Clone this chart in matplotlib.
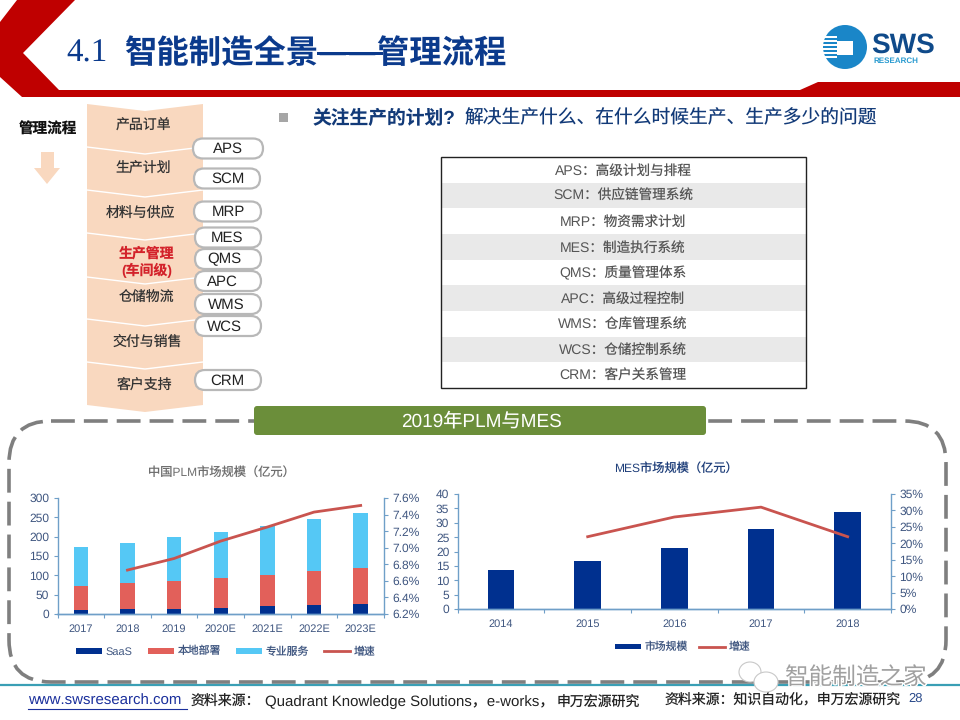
# -*- coding: utf-8 -*-
import numpy as np
import matplotlib
matplotlib.use("Agg")
import matplotlib.pyplot as plt
import matplotlib.patheffects as pe
from matplotlib.patches import Polygon, FancyBboxPatch, Rectangle, Circle, Ellipse

plt.rcParams['font.family'] = ['Liberation Sans', 'Noto Sans CJK SC', 'DejaVu Sans']
plt.rcParams['text.hinting'] = 'no_hinting'
plt.rcParams['text.hinting_factor'] = 1

# left chart
plm_years = ['2017', '2018', '2019', '2020E', '2021E', '2022E', '2023E']
plm_saas = [11, 13, 14, 16, 20, 23, 26]
plm_local = [62, 66, 71, 76, 80, 87, 94]
plm_service = [100, 105, 113, 119, 128, 135, 142]
plm_growth = [np.nan, 6.73, 6.87, 7.08, 7.25, 7.43, 7.51]

# right chart
mes_years = ['2014', '2015', '2016', '2017', '2018']
mes_size = [13.5, 16.6, 21.2, 27.7, 33.9]
mes_growth = [np.nan, 22, 28, 31, 22]

steps = ['产品订单', '生产计划', '材料与供应', '生产管理\n(车间级)', '仓储物流', '交付与销售', '客户支持']
table_rows = ['APS：高级计划与排程', 'SCM：供应链管理系统', 'MRP：物资需求计划', 'MES：制造执行系统',
              'QMS：质量管理体系', 'APC：高级过程控制', 'WMS：仓库管理系统', 'WCS：仓储控制系统', 'CRM：客户关系管理']
pill_names = ['APS', 'SCM', 'MRP', 'MES', 'QMS', 'APC', 'WMS', 'WCS', 'CRM']

NAVY = '#0b3a8c'
RED = '#bf0000'
BAR_NAVY = '#00308f'
BAR_RED = '#e2605a'
BAR_CYAN = '#55c8f5'
LINE_RED = '#c9544f'
AXIS = '#6f9fc8'
TICK = '#3f5680'
PEACH = '#f9d8bf'

fig = plt.figure(figsize=(9.6, 7.2), dpi=100)
bg = fig.add_axes([0, 0, 1, 1])
bg.set_xlim(0, 960)
bg.set_ylim(720, 0)
bg.axis('off')


def add_chart(left, top, right, bottom):
    return fig.add_axes([left / 960, 1 - bottom / 720, (right - left) / 960, (bottom - top) / 720])


# header
bg.add_patch(Polygon([(17, 0), (75, 0), (23, 53), (59, 90), (800, 90), (818, 82), (960, 82), (960, 97),
                      (22, 97), (0, 77), (0, 22)], fc=RED, ec='none'))
bg.text(66, 53.5, '4.1', family='Liberation Serif', fontsize=24, color=NAVY, va='center')
bg.text(124, 53.5, '智能制造全景——管理流程', family='Noto Sans CJK SC', weight='bold', fontsize=23.3,
        color=NAVY, va='center')
bg.add_patch(Rectangle((317, 52), 66, 3, fc=NAVY, ec='none'))

# logo
bg.add_patch(Circle((845, 47), 22, fc='#1a86c8', ec='none'))
bg.add_patch(Rectangle((837, 41), 16, 14, fc='white', ec='none'))
for y in range(36, 60, 4):
    bg.add_patch(Rectangle((822, y), 15, 2, fc='white', ec='none'))
bg.text(871, 45, 'SWS', fontsize=20.5, weight='bold', color='#0f4a8a', va='center')
bg.text(873, 61, 'RESEARCH', fontsize=5.5, weight='bold', color='#2a9bd0', va='center')

# process flow
edges = [104, 147, 190, 233, 277, 319, 362, 405]
step_x = [144, 143, 141, 147, 147, 147, 145]
step_y = [125.5, 169, 212.5, 262.5, 298, 342, 385]
for i, s in enumerate(steps):
    t, b = edges[i], edges[i + 1]
    bg.add_patch(Polygon([(87, t), (145, t + 7), (203, t), (203, b), (145, b + 7), (87, b)],
                         fc=PEACH, ec='none', zorder=1))
    col = '#d3222a' if i == 3 else '#333333'
    wt = 'bold' if i == 3 else 'normal'
    bg.text(step_x[i], step_y[i], s, ha='center', va='center', fontsize=10, color=col, weight=wt,
            zorder=2, linespacing=1.15)
for e in edges[1:-1]:
    bg.plot([87, 145, 203], [e, e + 7, e], color='white', lw=1, zorder=1.5)
bg.text(48, 130, '管理流程', ha='center', va='center', fontsize=10.5, weight='bold', color='#111111')
bg.add_patch(Polygon([(41, 152), (54, 152), (54, 168), (60, 168), (47, 184), (34, 168), (41, 168)],
                     fc=PEACH, ec='none'))

pill_y = [148.5, 178.5, 211.5, 237.5, 259, 281, 304, 326, 380]
pill_l = [193, 194, 194, 195, 195, 195, 195, 195, 195]
pill_r = [263, 260, 261, 261, 261, 261, 261, 261, 261]
pill_x = [228, 228, 228, 227, 224, 222, 226, 224, 227]
for name, y, l, r, x in zip(pill_names, pill_y, pill_l, pill_r, pill_x):
    bg.add_patch(FancyBboxPatch((l, y - 10), r - l, 20, boxstyle='round,pad=0,rounding_size=10',
                                fc='white', ec='#b8b8b8', lw=1.6, zorder=3))
    bg.text(x, y + 0.5, name, ha='center', va='center', fontsize=10.5, color='#222222', zorder=4)

# top text
bg.add_patch(Rectangle((279, 113), 9, 9, fc='#a6a6a6', ec='none'))
bg.text(313, 118.5, '关注生产的计划?', fontsize=13.5, weight='bold', color='#123a78', va='center')
bg.text(465, 118.5, '解决生产什么、在什么时候生产、生产多少的问题', fontsize=13.5, color='#123a78', va='center')

# table
row_h = (388 - 157) / 9
for i, r in enumerate(table_rows):
    if i % 2 == 1:
        bg.add_patch(Rectangle((441, 157 + i * row_h), 365, row_h, fc='#e9e9e9', ec='none'))
    bg.text(623, 157 + (i + 0.5) * row_h + 1, r, ha='center', va='center', fontsize=9.8, color='#555555')
bg.add_patch(Rectangle((441, 157), 365, 231, fc='none', ec='#222222', lw=1))

# dashed frame and banner
bg.add_patch(FancyBboxPatch((9, 421), 937, 261, boxstyle='round,pad=0,rounding_size=42', fc='none',
                            ec='#7f7f7f', lw=2.6, ls=(0, (6.6, 2.5))))
bg.add_patch(FancyBboxPatch((254, 406), 452, 29, boxstyle='round,pad=0,rounding_size=3', fc='#6b8e3a', ec='none'))
bg.text(481, 421, '2019年PLM与MES', ha='center', va='center', fontsize=13.8, color='white')

# PLM chart
ax1 = add_chart(57.5, 498, 384, 614)
x1 = np.arange(len(plm_years))
saas = np.array(plm_saas)
local = np.array(plm_local)
b1 = ax1.bar(x1, plm_saas, 0.31, color=BAR_NAVY)
b2 = ax1.bar(x1, plm_local, 0.31, bottom=saas, color=BAR_RED)
b3 = ax1.bar(x1, plm_service, 0.31, bottom=saas + local, color=BAR_CYAN)
ax1.set_xlim(-0.5, 6.5)
ax1.set_ylim(0, 300)
ax1.set_yticks(range(0, 301, 50))
ax1r = ax1.twinx()
l1, = ax1r.plot(x1, plm_growth, color=LINE_RED, lw=2)
ax1r.set_ylim(6.2, 7.6)
ax1r.set_yticks(np.arange(6.2, 7.61, 0.2))
ax1r.set_yticklabels(['%.1f%%' % v for v in np.arange(6.2, 7.61, 0.2)])
ax1.set_xticks(np.arange(-0.5, 7, 1))
ax1.set_xticklabels([])
ax1.set_xticks(x1, minor=True)
ax1.set_xticklabels(plm_years, minor=True)

# MES chart
ax2 = add_chart(457.7, 494, 891, 609)
x2 = np.arange(len(mes_years))
b4 = ax2.bar(x2, mes_size, 0.31, color=BAR_NAVY)
ax2.set_xlim(-0.5, 4.5)
ax2.set_ylim(0, 40)
ax2.set_yticks(range(0, 41, 5))
ax2r = ax2.twinx()
l2, = ax2r.plot(x2, mes_growth, color=LINE_RED, lw=2)
ax2r.set_ylim(0, 35)
ax2r.set_yticks(range(0, 36, 5))
ax2r.set_yticklabels(['%d%%' % v for v in range(0, 36, 5)])
ax2.set_xticks(np.arange(-0.5, 5, 1))
ax2.set_xticklabels([])
ax2.set_xticks(x2, minor=True)
ax2.set_xticklabels(mes_years, minor=True)

for ax in (ax1, ax2, ax1r, ax2r):
    ax.patch.set_alpha(0)
    ax.spines['top'].set_visible(False)
    for s in ('left', 'right', 'bottom'):
        ax.spines[s].set_color(AXIS)
        ax.spines[s].set_linewidth(1)
    ax.tick_params(axis='y', labelsize=8.3, colors=AXIS, labelcolor=TICK, length=3, width=0.8, pad=3)
    ax.tick_params(axis='x', which='major', color=AXIS, length=3, width=0.8)
    ax.tick_params(axis='x', which='minor', length=0, labelsize=8, labelcolor=TICK, pad=7)
ax1.spines['right'].set_visible(False)
ax2.spines['right'].set_visible(False)
ax1r.spines['left'].set_visible(False)
ax2r.spines['left'].set_visible(False)

bg.text(221, 472, '中国PLM市场规模（亿元）', ha='center', va='center', fontsize=8.8, color='#6e6e6e')
bg.text(676, 468, 'MES市场规模（亿元）', ha='center', va='center', fontsize=8.8, color='#1f3f7a')

leg_font = {'size': 7.8}
ax1.legend([b1, b2, b3, l1], ['SaaS', '本地部署', '专业服务', '增速'], ncol=4, frameon=False,
           loc='center', bbox_to_anchor=(0.515, -0.325), prop=leg_font, handlelength=2.4,
           handleheight=0.45, columnspacing=1.4, handletextpad=0.35, labelcolor=TICK)
ax2.legend([b4, l2], ['市场规模', '增速'], ncol=2, frameon=False, loc='center',
           bbox_to_anchor=(0.52, -0.335), prop=leg_font, handlelength=2.4, handleheight=0.45,
           columnspacing=1.0, handletextpad=0.35, labelcolor=TICK)

# footer
bg.plot([0, 960], [684.5, 684.5], color='#3a9fb5', lw=1.6)
bg.text(28, 701, 'www.swsresearch.com', fontsize=11.1, color='#1a2f9c', va='center')
bg.plot([28, 187], [708.5, 708.5], color='#1a2f9c', lw=0.8)
bg.text(191, 702, '资料来源：', fontsize=10, color='#222222', va='center')
bg.text(265, 702, 'Quadrant Knowledge Solutions，e-works，', fontsize=10.8, color='#222222', va='center')
bg.text(557, 702, '申万宏源研究', fontsize=10, color='#222222', va='center')
bg.text(665, 700, '资料来源：知识自动化，申万宏源研究', fontsize=10, color='#222222', va='center')
bg.text(908, 699, '28', fontsize=9.6, color='#2a4a8a', va='center')

# watermark
bg.add_patch(Ellipse((750, 672), 22, 20, fc='white', ec='#c8c8c8', lw=0.8, zorder=6))
bg.add_patch(Ellipse((766, 682), 24, 20, fc='white', ec='#c8c8c8', lw=0.8, zorder=6))
bg.text(785, 678, '智能制造之家', fontsize=17, color='#a0a0a0', va='center', zorder=6,
        path_effects=[pe.withStroke(linewidth=2, foreground='white')])

fig.savefig('out.png', dpi=100)
